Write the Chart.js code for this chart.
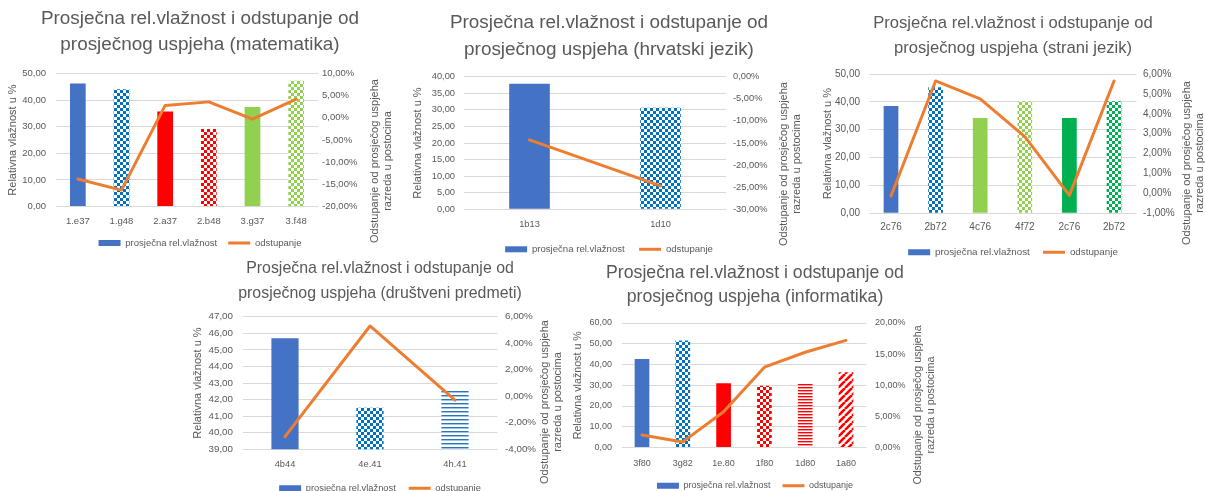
<!DOCTYPE html>
<html><head><meta charset="utf-8">
<script src="https://cdn.jsdelivr.net/npm/chart.js@4.4.1/dist/chart.umd.min.js"></script>
<style>
html,body{margin:0;padding:0;background:#fff;width:1205px;height:491px;overflow:hidden;position:relative}
canvas{position:absolute}
</style></head><body>
<canvas id="c1"></canvas><canvas id="c2"></canvas><canvas id="c3"></canvas><canvas id="c4"></canvas><canvas id="c5"></canvas>
<script>
// ---------- shared texts ----------
const seriesNames = ['prosječna rel.vlažnost', 'odstupanje'];
const leftAxisTitle = 'Relativna vlažnost u %';
const rightAxisTitle = ['Odstupanje od prosječog uspjeha', 'razreda u postocima'];

// ---------- chart 1: matematika ----------
const title1 = ['Prosječna rel.vlažnost i odstupanje od', 'prosječnog uspjeha (matematika)'];
const cats1 = ['1.e37', '1.g48', '2.a37', '2.b48', '3.g37', '3.f48'];
const vlaz1 = [46.2, 44.1, 35.7, 29.1, 37.4, 47.3];
const odst1 = [-13.8, -16.3, 2.8, 3.6, -0.3, 4.2];
const leftAxis1 = [0, 50, 10];
const rightAxis1 = [-20, 10, 5];

// ---------- chart 2: hrvatski jezik ----------
const title2 = ['Prosječna rel.vlažnost i odstupanje od', 'prosječnog uspjeha (hrvatski jezik)'];
const cats2 = ['1b13', '1d10'];
const vlaz2 = [37.9, 30.6];
const odst2 = [-14.3, -24.7];
const leftAxis2 = [0, 40, 5];
const rightAxis2 = [-30, 0, 5];

// ---------- chart 3: strani jezik ----------
const title3 = ['Prosječna rel.vlažnost i odstupanje od', 'prosječnog uspjeha (strani jezik)'];
const cats3 = ['2c76', '2b72', '4c76', '4f72', '2c76', '2b72'];
const vlaz3 = [38.5, 45.2, 34.2, 40.2, 34.2, 40.2];
const odst3 = [-0.13, 5.65, 4.75, 2.85, -0.1, 5.65];
const leftAxis3 = [0, 50, 10];
const rightAxis3 = [-1, 6, 1];

// ---------- chart 4: društveni predmeti ----------
const title4 = ['Prosječna rel.vlažnost i odstupanje od', 'prosječnog uspjeha (društveni predmeti)'];
const cats4 = ['4b44', '4e.41', '4h.41'];
const vlaz4 = [45.7, 41.5, 42.6];
const odst4 = [-3.05, 5.3, -0.3];
const leftAxis4 = [39, 47, 1];
const rightAxis4 = [-4, 6, 2];

// ---------- chart 5: informatika ----------
const title5 = ['Prosječna rel.vlažnost i odstupanje od', 'prosječnog uspjeha (informatika)'];
const cats5 = ['3f80', '3g82', '1e.80', '1f80', '1d80', '1a80'];
const vlaz5 = [42.6, 51.6, 31.0, 29.7, 30.6, 36.3];
const odst5 = [2.0, 0.9, 5.75, 12.9, 15.3, 17.2];
const leftAxis5 = [0, 60, 10];
const rightAxis5 = [0, 20, 5];

// ---------- styles ----------
const FONT = '"Liberation Sans", Arial, sans-serif';
const GREY = '#595959';
const GRID = '#d9d9d9';
const ORANGE = '#ED7D31';
const LEGEND_BLUE = '#4472C4';
const fills1 = ['blue', 'blueChk', 'red', 'redChk', 'green', 'greenChk'];
const fills2 = ['blue', 'blueChk'];
const fills3 = ['blue', 'blueChk', 'green', 'greenChk', 'dkgreen', 'dkgreenChk'];
const fills4 = ['blue', 'blueChk', 'blueHoriz'];
const fills5 = ['blue', 'blueChk', 'red', 'redChk', 'redHoriz', 'redDiag'];

function tile(w, h, draw) {
  const c = document.createElement('canvas');
  c.width = w; c.height = h;
  const x = c.getContext('2d');
  x.fillStyle = '#ffffff'; x.fillRect(0, 0, w, h);
  draw(x);
  return c;
}
function makeFills(ctx) {
  const chk = (fg) => ctx.createPattern(tile(6, 6, x => { x.fillStyle = fg; x.fillRect(0, 0, 3, 3); x.fillRect(3, 3, 3, 3); }), 'repeat');
  return {
    blue: '#4472C4',
    red: '#FF0000',
    green: '#92D050',
    dkgreen: '#00B050',
    blueChk: chk('#0070C0'),
    redChk: chk('#FF0000'),
    greenChk: chk('#92D050'),
    dkgreenChk: chk('#00B050'),
    blueHoriz: ctx.createPattern(tile(4, 4, x => { x.fillStyle = '#2E75B6'; x.fillRect(0, 0, 4, 1); x.fillStyle = '#9DC3E6'; x.fillRect(0, 1, 4, 1); }), 'repeat'),
    redHoriz: ctx.createPattern(tile(3, 3, x => { x.fillStyle = '#FF0000'; x.fillRect(0, 0, 3, 1); x.fillStyle = '#FF9A9A'; x.fillRect(0, 1, 3, 1); }), 'repeat'),
    redDiag: ctx.createPattern(tile(7, 7, x => {
      x.strokeStyle = '#FF0000'; x.lineWidth = 2.6;
      for (const o of [-7, 0, 7]) { x.beginPath(); x.moveTo(o, 7); x.lineTo(o + 7, 0); x.stroke(); }
    }), 'repeat')
  };
}

const rightTitlePlugin = {
  id: 'rightTitle',
  afterDraw(chart, args, o) {
    const ctx = chart.ctx;
    ctx.save();
    ctx.fillStyle = GREY;
    ctx.font = o.size + 'px ' + FONT;
    ctx.textAlign = 'center';
    ctx.textBaseline = 'middle';
    ctx.translate(o.x, o.y);
    ctx.rotate(-Math.PI / 2);
    const n = o.lines.length;
    o.lines.forEach((t, i) => ctx.fillText(t, 0, (i - (n - 1) / 2) * o.lh));
    ctx.restore();
  }
};

const fmtNum = v => v.toFixed(2).replace('.', ',');
const fmtPct = v => v.toFixed(2).replace('.', ',') + '%';

function build(id, s) {
  const cv = document.getElementById(id);
  cv.width = s.w; cv.height = s.h;
  cv.style.left = s.x + 'px'; cv.style.top = s.y + 'px';
  const F = makeFills(cv.getContext('2d'));
  new Chart(cv, {
    type: 'bar',
    data: {
      labels: s.cats,
      datasets: [
        { type: 'bar', label: seriesNames[0], data: s.bars, yAxisID: 'y', order: 2,
          backgroundColor: s.fills.map(k => F[k]), borderWidth: 0,
          barPercentage: s.barPct, categoryPercentage: 1 },
        { type: 'line', label: seriesNames[1], data: s.line, yAxisID: 'y1', order: 1,
          borderColor: ORANGE, backgroundColor: ORANGE, borderWidth: 3, pointRadius: 0,
          tension: 0, borderJoinStyle: 'round', borderCapStyle: 'round' }
      ]
    },
    options: {
      responsive: false, animation: false, devicePixelRatio: 1,
      layout: { padding: { left: 0, right: 0, top: 0, bottom: s.padB } },
      plugins: {
        title: { display: true, text: s.title, color: GREY,
          font: { family: FONT, size: s.tSize, weight: 'normal', lineHeight: s.tLH + 'px' },
          padding: { top: s.tPadT, bottom: s.tPadB } },
        legend: { position: 'bottom',
          labels: { usePointStyle: true, pointStyleWidth: 22, boxHeight: 6, padding: s.legPad,
            color: GREY, font: { family: FONT, size: s.legSize },
            generateLabels: () => [
              { text: seriesNames[0], fillStyle: LEGEND_BLUE, strokeStyle: LEGEND_BLUE, lineWidth: 0, pointStyle: 'rect', datasetIndex: 0, hidden: false, fontColor: GREY },
              { text: seriesNames[1], fillStyle: ORANGE, strokeStyle: ORANGE, lineWidth: 3, pointStyle: 'line', datasetIndex: 1, hidden: false, fontColor: GREY }
            ] } },
        tooltip: { enabled: false },
        rightTitle: { lines: rightAxisTitle, x: s.rtX, y: s.rtY, size: s.rtSize, lh: 13 }
      },
      scales: {
        x: { grid: { display: false, drawTicks: false }, border: { display: false },
          ticks: { color: GREY, font: { family: FONT, size: s.xFont }, padding: s.xPad, maxRotation: 0, autoSkip: false },
          afterFit: sc => { sc.height = s.xH; } },
        y: { position: 'left', min: s.left[0], max: s.left[1],
          ticks: { stepSize: s.left[2], callback: fmtNum, padding: s.yPad, color: GREY, font: { family: FONT, size: s.tickFont } },
          grid: { color: GRID, lineWidth: 1, drawTicks: false }, border: { display: false },
          title: { display: true, text: leftAxisTitle, color: GREY, font: { family: FONT, size: s.ltSize }, padding: { top: s.ltPad, bottom: 0 } },
          afterFit: sc => { sc.width = s.yW; } },
        y1: { position: 'right', min: s.right[0], max: s.right[1],
          ticks: { stepSize: s.right[2], callback: fmtPct, padding: s.y1Pad, color: GREY, font: { family: FONT, size: s.tickFont } },
          grid: { drawOnChartArea: false, drawTicks: false }, border: { display: false },
          afterFit: sc => { sc.width = s.y1W; } }
      }
    },
    plugins: [rightTitlePlugin]
  });
}

build('c1', { x: 0, y: 0, w: 400, h: 258, padB: 0.25,
  title: title1, cats: cats1, bars: vlaz1, line: odst1, fills: fills1, left: leftAxis1, right: rightAxis1,
  barPct: 0.36, tSize: 18.9, tLH: 26.7, tPadT: 5, tPadB: 15.1,
  yW: 56, y1W: 82, yPad: 10, y1Pad: 4, tickFont: 9.5, ltSize: 11, ltPad: 6.4,
  xFont: 9.5, xPad: 8.8, xH: 20.7, legSize: 9.5, legPad: 11.05,
  rtX: 381.5, rtY: 161, rtSize: 11 });

build('c2', { x: 410, y: 0, w: 398, h: 265, padB: 0.9,
  title: title2, cats: cats2, bars: vlaz2, line: odst2, fills: fills2, left: leftAxis2, right: rightAxis2,
  barPct: 0.31, tSize: 18.9, tLH: 27.3, tPadT: 9.05, tPadB: 13.05,
  yW: 54, y1W: 82, yPad: 9, y1Pad: 7, tickFont: 9.3, ltSize: 11, ltPad: 1.4,
  xFont: 9.3, xPad: 9.1, xH: 20.8, legSize: 9.6, legPad: 14.4,
  rtX: 380, rtY: 164, rtSize: 11 });

build('c3', { x: 821, y: 0, w: 384, h: 268, padB: 0.8,
  title: title3, cats: cats3, bars: vlaz3, line: odst3, fills: fills3, left: leftAxis3, right: rightAxis3,
  barPct: 0.33, tSize: 16.6, tLH: 25, tPadT: 10.8, tPadB: 13.2,
  yW: 47.7, y1W: 68.7, yPad: 8.7, y1Pad: 6.7, tickFont: 10, ltSize: 11, ltPad: 0,
  xFont: 10, xPad: 8.4, xH: 20.9, legSize: 9.8, legPad: 13.2,
  rtX: 372.5, rtY: 163, rtSize: 11 });

build('c4', { x: 190, y: 255, w: 380, h: 248, padB: 0.05,
  title: title4, cats: cats4, bars: vlaz4, line: odst4, fills: fills4, left: leftAxis4, right: rightAxis4,
  barPct: 0.32, tSize: 15.9, tLH: 25, tPadT: 0.8, tPadB: 10.9,
  yW: 52.5, y1W: 72.5, yPad: 9.5, y1Pad: 7.5, tickFont: 9.8, ltSize: 11, ltPad: 1.4,
  xFont: 9.3, xPad: 9.4, xH: 21.35, legSize: 9.3, legPad: 13,
  rtX: 361.5, rtY: 147, rtSize: 11 });

build('c5', { x: 565, y: 255, w: 380, h: 246, padB: 0.8,
  title: title5, cats: cats5, bars: vlaz5, line: odst5, fills: fills5, left: leftAxis5, right: rightAxis5,
  barPct: 0.36, tSize: 17.7, tLH: 24, tPadT: 5.7, tPadB: 14.3,
  yW: 56.6, y1W: 78.6, yPad: 9.6, y1Pad: 8.6, tickFont: 9, ltSize: 10.7, ltPad: 6.4,
  xFont: 9, xPad: 10.4, xH: 21.7, legSize: 9, legPad: 12,
  rtX: 360, rtY: 150, rtSize: 10.7 });
</script>
</body></html>
